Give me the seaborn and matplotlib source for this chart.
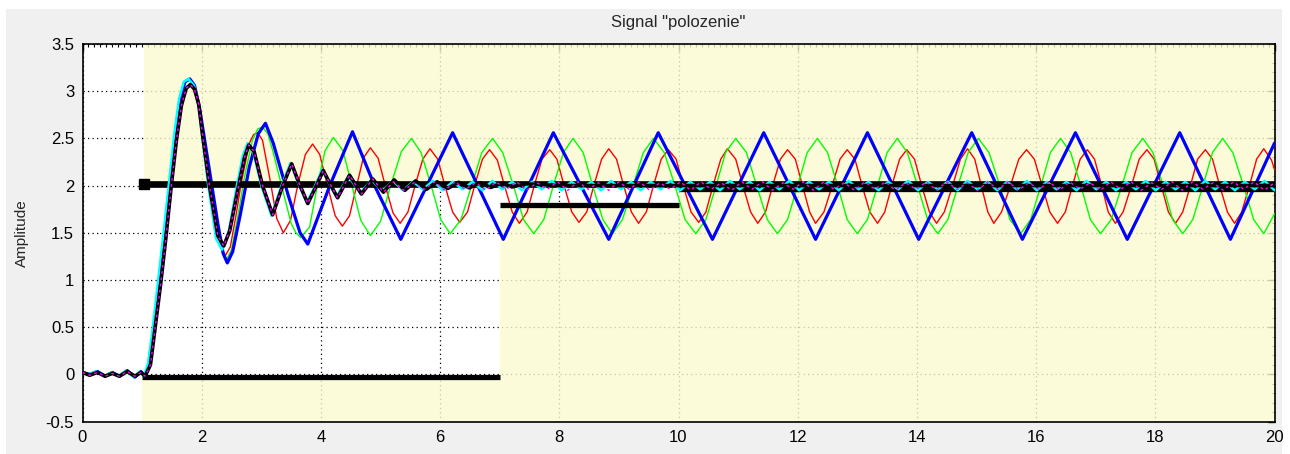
#!/usr/bin/env python3
"""
Signal "polozenie" - step responses over the signal-builder background.
"""
import numpy as np
import matplotlib
matplotlib.use('Agg')
import matplotlib.pyplot as plt
import seaborn as sns
from matplotlib.patches import Rectangle
from matplotlib.ticker import MultipleLocator

# common start of the coloured responses (0 .. first overshoot)
rise_t = [0.0, 0.12, 0.25, 0.38, 0.5, 0.62, 0.75, 0.88, 0.98, 1.05,
          1.12, 1.19, 1.28, 1.38, 1.47, 1.56, 1.64, 1.72, 1.80]
rise_y = [0.02, 0.0, 0.03, -0.02, 0.02, -0.02, 0.04, -0.03, 0.03, -0.02,
          0.12, 0.45, 0.95, 1.5, 2.02, 2.55, 2.92, 3.10, 3.13]

# black: damped response
black_t = [0.0, 0.12, 0.25, 0.38, 0.5, 0.62, 0.75, 0.88, 0.98, 1.05,
           1.14, 1.21, 1.31, 1.40, 1.49, 1.58, 1.66, 1.74, 1.81, 1.88,
           1.95, 2.02, 2.13, 2.27, 2.37, 2.47, 2.62, 2.72, 2.79, 2.88,
           3.02, 3.19, 3.36, 3.51, 3.63, 3.78, 3.91, 4.04, 4.16, 4.28,
           4.48, 4.68, 4.87, 5.05, 5.23, 5.41, 5.59, 5.77, 5.95, 6.13,
           6.31, 6.49, 6.67, 6.85, 7.03, 7.21, 7.40, 8.0, 20.0]
black_y = [0.02, -0.01, 0.02, -0.02, 0.01, -0.02, 0.03, -0.02, 0.02, -0.02,
           0.10, 0.45, 0.95, 1.45, 2.0, 2.5, 2.85, 3.03, 3.07, 3.02,
           2.86, 2.51, 2.0, 1.47, 1.36, 1.52, 2.0, 2.30, 2.43, 2.36,
           2.0, 1.69, 2.0, 2.23, 2.03, 1.81, 1.98, 2.16, 2.01, 1.87,
           2.11, 1.91, 2.07, 1.93, 2.06, 1.95, 2.05, 1.96, 2.04, 1.97,
           2.035, 1.975, 2.03, 1.98, 2.025, 1.985, 2.02, 2.0, 2.0]

# cyan: close to black, slightly ahead
cyan_t = [1.87, 1.94, 2.0, 2.11, 2.24, 2.34, 2.45, 2.59, 2.69, 2.77,
          2.86, 3.0, 3.17, 3.34, 3.49, 3.61, 3.76, 3.89, 4.02, 4.14,
          4.26, 4.46, 4.66, 4.85, 5.03, 5.21]
cyan_y = [3.06, 2.90, 2.56, 2.0, 1.44, 1.32, 1.50, 2.0, 2.32, 2.45,
          2.37, 2.0, 1.68, 2.0, 2.24, 2.04, 1.82, 1.98, 2.17, 2.02,
          1.88, 2.10, 1.92, 2.06, 1.94, 2.05]
cyan_tail_y = [1.95, 2.04, 1.96, 2.05, 1.95, 2.04, 1.96, 2.04, 1.95, 2.05,
               1.96, 2.04, 1.95, 2.04, 1.96, 2.05, 1.95, 2.04, 1.96, 2.04,
               1.95, 2.05, 1.96, 2.04, 1.95, 2.04, 1.96, 2.05, 1.95, 2.04,
               1.96, 2.04, 1.95, 2.05, 1.96, 2.04, 1.95, 2.04, 1.96, 2.05,
               1.95, 2.04, 1.96, 2.04, 1.95, 2.05, 1.96, 2.04, 1.95, 2.04,
               1.96, 2.05, 1.95, 2.04, 1.96, 2.04, 1.95, 2.05, 1.96, 2.04,
               1.95, 2.04, 1.96, 2.05, 1.95, 2.04, 1.96, 2.04, 1.95, 2.05,
               1.96, 2.04, 1.95, 2.04, 1.96, 2.05, 1.95, 2.04, 1.96, 2.04,
               1.95, 2.05, 1.96, 2.04, 1.95, 2.04, 1.96, 2.05, 1.95]

# magenta (dashed) tail after it joins the black trace
magenta_tail_y = [2.04, 1.95, 2.03, 1.96, 2.04, 1.95, 2.04, 1.96, 2.03, 1.95,
                  2.04, 1.96, 2.04, 1.95, 2.03, 1.96, 2.04, 1.95, 2.04, 1.96,
                  2.03, 1.95, 2.04, 1.96, 2.04, 1.95, 2.03, 1.96, 2.04, 1.95,
                  2.04, 1.96, 2.03, 1.95, 2.04, 1.96, 2.04, 1.95, 2.03, 1.96,
                  2.04, 1.95, 2.04, 1.96, 2.03, 1.95, 2.04, 1.96, 2.04, 1.95,
                  2.03, 1.96, 2.04, 1.95, 2.04, 1.96, 2.03, 1.95, 2.04, 1.96,
                  2.04, 1.95, 2.03, 1.96, 2.04, 1.95, 2.04, 1.96, 2.03, 1.95,
                  2.04, 1.96, 2.04, 1.95, 2.03, 1.96, 2.04, 1.95, 2.04, 1.96,
                  2.03, 1.95, 2.04, 1.96, 2.04, 1.95, 2.03]

# red: sustained oscillation, period ~1.0
red_t = [1.88, 1.96, 2.10, 2.24, 2.32, 2.40, 2.48, 2.58, 2.67, 2.80,
         2.87, 2.94, 3.02, 3.15, 3.26, 3.37, 3.49, 3.61, 3.74, 3.86,
         3.98, 4.11, 4.24, 4.36, 4.48, 4.60, 4.71, 4.83, 4.96, 5.08,
         5.21, 5.33, 5.46, 5.58, 5.71,
         5.83, 5.96, 6.08, 6.21, 6.33, 6.46, 6.58, 6.71,
         6.83, 6.96, 7.08, 7.21, 7.33, 7.46, 7.58, 7.71,
         7.84, 7.96, 8.08, 8.21, 8.33, 8.46, 8.58, 8.71,
         8.83, 8.96, 9.08, 9.21, 9.33, 9.46, 9.58, 9.71,
         9.83, 9.96, 10.08, 10.21, 10.34, 10.46, 10.58, 10.71,
         10.82, 10.96, 11.08, 11.21, 11.33, 11.46, 11.58, 11.71,
         11.83, 11.96, 12.08, 12.20, 12.30, 12.44, 12.58, 12.71,
         12.83, 12.96, 13.08, 13.21, 13.34, 13.46, 13.58, 13.71,
         13.83, 13.96, 14.08, 14.21, 14.33, 14.46, 14.60, 14.73,
         14.85, 14.97, 15.08, 15.19, 15.29, 15.42, 15.57, 15.71,
         15.84, 15.97, 16.10, 16.23, 16.36, 16.49, 16.61, 16.74,
         16.86, 16.98, 17.10, 17.21, 17.33, 17.46, 17.60, 17.73,
         17.86, 17.98, 18.10, 18.22, 18.34, 18.46, 18.59, 18.71,
         18.84, 18.96, 19.08, 19.21, 19.33, 19.45, 19.58, 19.70,
         19.82, 19.95, 20.0]
red_y = [3.05, 2.80, 2.20, 1.60, 1.35, 1.26, 1.35, 1.70, 2.05, 2.45,
         2.54, 2.56, 2.48, 2.05, 1.65, 1.50, 1.63, 2.0, 2.33, 2.44,
         2.33, 2.0, 1.68, 1.57, 1.68, 2.0, 2.29, 2.40, 2.29, 2.0,
         1.71, 1.60, 1.72, 2.0, 2.28,
         2.39, 2.28, 2.0, 1.72, 1.61, 1.72, 2.0, 2.28,
         2.38, 2.27, 2.0, 1.72, 1.60, 1.72, 2.0, 2.28,
         2.38, 2.28, 2.0, 1.72, 1.61, 1.72, 2.0, 2.28,
         2.39, 2.28, 2.0, 1.72, 1.60, 1.72, 2.0, 2.28,
         2.38, 2.28, 2.0, 1.72, 1.61, 1.72, 2.0, 2.28,
         2.39, 2.28, 2.0, 1.72, 1.60, 1.72, 2.0, 2.28,
         2.38, 2.28, 2.0, 1.72, 1.60, 1.72, 2.0, 2.28,
         2.38, 2.28, 2.0, 1.72, 1.60, 1.72, 2.0, 2.28,
         2.38, 2.28, 2.0, 1.72, 1.60, 1.72, 2.0, 2.28,
         2.39, 2.28, 2.0, 1.72, 1.60, 1.72, 2.0, 2.28,
         2.38, 2.28, 2.0, 1.72, 1.60, 1.72, 2.0, 2.28,
         2.38, 2.28, 2.0, 1.72, 1.60, 1.72, 2.0, 2.28,
         2.38, 2.28, 2.0, 1.72, 1.60, 1.72, 2.0, 2.28,
         2.38, 2.28, 2.0, 1.72, 1.60, 1.72, 2.0, 2.28,
         2.39, 2.27, 2.17]

# green: sustained oscillation, period ~1.36
green_t = [1.88, 1.97, 2.11, 2.25, 2.34, 2.42, 2.50, 2.60, 2.72, 2.85,
           2.94, 3.02, 3.11, 3.20, 3.34, 3.50, 3.58, 3.66, 3.81, 3.94,
           4.07, 4.21, 4.37, 4.52, 4.67, 4.83, 5.0, 5.17, 5.35,
           5.52, 5.68, 5.85, 6.01, 6.17, 6.35, 6.53, 6.70,
           6.88, 7.05, 7.23, 7.40, 7.57, 7.74, 7.90, 8.07,
           8.23, 8.40, 8.56, 8.73, 8.89, 9.06, 9.24, 9.41,
           9.58, 9.76, 9.94, 10.11, 10.29, 10.46, 10.63, 10.79,
           10.96, 11.14, 11.31, 11.49, 11.66, 11.83, 12.00, 12.16,
           12.33, 12.50, 12.67, 12.83, 13.00, 13.17, 13.34, 13.50,
           13.67, 13.84, 14.01, 14.18, 14.35, 14.52, 14.69, 14.86,
           15.03, 15.21, 15.39, 15.56, 15.74, 15.91, 16.08, 16.24,
           16.41, 16.58, 16.75, 16.91, 17.08, 17.26, 17.44, 17.61,
           17.79, 17.96, 18.13, 18.29, 18.46, 18.63, 18.80, 18.96,
           19.13, 19.30, 19.48, 19.65, 19.82, 20.0]
green_y = [3.06, 2.80, 2.20, 1.60, 1.32, 1.22, 1.32, 1.65, 2.10, 2.48,
           2.60, 2.62, 2.55, 2.35, 2.0, 1.60, 1.50, 1.45, 1.56, 2.0,
           2.37, 2.51, 2.37, 2.0, 1.63, 1.47, 1.62, 2.0, 2.36,
           2.50, 2.35, 2.0, 1.64, 1.49, 1.64, 2.0, 2.35,
           2.50, 2.35, 2.0, 1.64, 1.49, 1.64, 2.0, 2.35,
           2.50, 2.35, 2.0, 1.64, 1.49, 1.64, 2.0, 2.35,
           2.50, 2.35, 2.0, 1.64, 1.49, 1.64, 2.0, 2.35,
           2.50, 2.35, 2.0, 1.64, 1.49, 1.64, 2.0, 2.35,
           2.50, 2.35, 2.0, 1.64, 1.49, 1.64, 2.0, 2.35,
           2.50, 2.35, 2.0, 1.64, 1.49, 1.64, 2.0, 2.35,
           2.50, 2.35, 2.0, 1.64, 1.49, 1.64, 2.0, 2.35,
           2.50, 2.35, 2.0, 1.64, 1.49, 1.64, 2.0, 2.35,
           2.50, 2.35, 2.0, 1.64, 1.49, 1.64, 2.0, 2.35,
           2.50, 2.35, 2.0, 1.64, 1.49, 1.70]

# blue: triangle-like oscillation, period ~1.74
blue_t = [1.88, 1.97, 2.12, 2.27, 2.36, 2.43, 2.52, 2.65, 2.80, 2.95,
          3.07, 3.20, 3.45, 3.65, 3.78, 4.15, 4.53, 4.90, 5.34, 6.21,
          7.06, 7.90, 8.83, 9.66, 10.57, 11.43, 12.30, 13.17, 14.03, 14.92,
          15.77, 16.66, 17.53, 18.41, 19.26, 20.0]
blue_y = [3.06, 2.80, 2.20, 1.60, 1.28, 1.18, 1.30, 1.70, 2.20, 2.55,
          2.66, 2.45, 1.90, 1.50, 1.38, 2.0, 2.57, 2.0, 1.43, 2.56,
          1.43, 2.56, 1.43, 2.56, 1.43, 2.56, 1.43, 2.56, 1.43, 2.56,
          1.43, 2.56, 1.43, 2.56, 1.43, 2.45]

# signal-builder levels (thick black)
upper_t = [1.03, 20.0]
upper_y = [2.02, 2.02]
lower_t = [1.0, 7.0, 7.0, 10.0, 10.0, 20.0]
lower_y = [-0.03, -0.03, 1.79, 1.79, 1.96, 1.96]

x_ticks = [0, 2, 4, 6, 8, 10, 12, 14, 16, 18, 20]
y_ticks = [-0.5, 0, 0.5, 1, 1.5, 2, 2.5, 3, 3.5]
x_labels = ['0', '2', '4', '6', '8', '10', '12', '14', '16', '18', '20']
y_labels = ['-0.5', '0', '0.5', '1', '1.5', '2', '2.5', '3', '3.5']


def main():
    sns.set_style('white')
    plt.rcParams['font.family'] = ['Liberation Sans', 'DejaVu Sans']
    plt.rcParams['font.size'] = 12

    fig = plt.figure(figsize=(12.9, 4.54), dpi=100)
    fig.patch.set_facecolor('#f0f0f0')
    # window edges (white strips on top, left and right), kept under the axes
    for rect in [(0, 1 - 9 / 454, 1, 9 / 454), (0, 0, 6 / 1290, 1),
                 (1282 / 1290, 0, 8 / 1290, 1)]:
        fig.add_artist(Rectangle(rect[:2], rect[2], rect[3], transform=fig.transFigure,
                                 facecolor='white', edgecolor='none', zorder=-1))

    ax = fig.add_axes([82.5 / 1290, 1 - 421.5 / 454, 1192 / 1290, 377.5 / 454])
    ax.set_facecolor('white')
    ax.set_xlim(0, 20)
    ax.set_ylim(-0.5, 3.5)
    ax.set_axisbelow(True)

    # grid + ticks sit under the yellow wash -> grey in the yellow part
    ax.grid(True, which='major', color='black', linewidth=0.9,
            linestyle=(0, (1, 2.6)))
    ax.set_xticks(x_ticks, x_labels)
    ax.set_yticks(y_ticks, y_labels)
    ax.xaxis.set_minor_locator(MultipleLocator(0.1))
    ax.yaxis.set_minor_locator(MultipleLocator(0.1))
    ax.tick_params(which='both', direction='in', top=True, right=True,
                   colors='black', labelsize=12)
    ax.tick_params(which='major', length=5, width=1, pad=6)
    ax.tick_params(which='minor', length=2.2, width=0.8)
    for s in ax.spines.values():
        s.set_color('black')
        s.set_linewidth(1.2)

    # yellow wash outside the band enclosed by the two builder levels
    wash = dict(color=(0.98, 0.98, 0.82), alpha=0.8, linewidth=0, zorder=1)
    ax.fill_between(upper_t, upper_y, [3.5, 3.5], **wash)
    ax.fill_between(lower_t, [-0.5] * len(lower_t), lower_y, **wash)

    def line(t, y, **kw):
        sns.lineplot(x=t, y=y, ax=ax, estimator=None, sort=False,
                     legend=False, **kw)

    line(rise_t + red_t, rise_y + red_y, color='#ff0000', linewidth=1.0, zorder=3)
    line(rise_t + green_t, rise_y + green_y, color='#00ff00', linewidth=1.0, zorder=3.1)
    line(rise_t + blue_t, rise_y + blue_y, color='#0000ff', linewidth=2.3, zorder=3.2)

    # builder levels, drawn as separate flat pieces
    ax.plot(upper_t, upper_y, color='black', linewidth=4.8, zorder=4,
            solid_capstyle='butt')
    ax.plot(upper_t[:1], upper_y[:1], marker='s', markersize=6.5, color='black', zorder=4)
    for i in range(0, len(lower_t), 2):
        ax.plot(lower_t[i:i + 2], lower_y[i:i + 2], color='black', linewidth=3.8,
                zorder=4, solid_capstyle='butt')

    cyan_full_t = [v - 0.02 for v in rise_t] + cyan_t + \
        list(np.linspace(5.38, 20.0, len(cyan_tail_y)))
    line(cyan_full_t, rise_y + cyan_y + cyan_tail_y, color='#00ffff',
         linewidth=1.8, zorder=4.8)
    line(black_t, black_y, color='black', linewidth=2.6, zorder=5)
    mag_t = black_t[:44] + list(np.linspace(5.22, 20.0, len(magenta_tail_y)))
    line(mag_t, black_y[:44] + magenta_tail_y, color='#ff00ff', linewidth=1.0,
         linestyle=(0, (2, 2.5)), zorder=6)

    ax.set_xlabel('')
    ax.set_ylabel('Amplitude', fontsize=11)
    ax.yaxis.set_label_coords(-0.045, 0.5)
    ax.text(0.5, 1.056, 'Signal "polozenie"', transform=ax.transAxes,
            ha='center', va='center', fontsize=12)

    fig.savefig('out.png', dpi=100, facecolor=fig.get_facecolor())
    plt.close(fig)


if __name__ == '__main__':
    main()
